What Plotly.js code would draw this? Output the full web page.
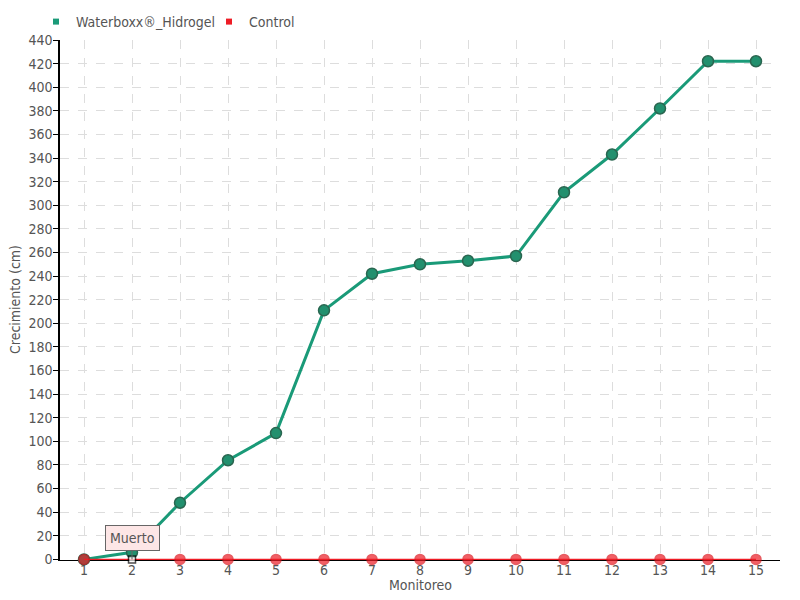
<!DOCTYPE html>
<html><head><meta charset="utf-8">
<script src="https://cdn.plot.ly/plotly-3.0.1.min.js"></script>
<style>body{margin:0}</style></head>
<body><div id="chart" style="width:800px;height:600px"></div>
<script>
const monitoreo = [1,2,3,4,5,6,7,8,9,10,11,12,13,14,15];
const waterboxx = [0,6,48,84,107,211,242,250,253,257,311,343,382,422,422];
const control = [0,0,0,0,0,0,0,0,0,0,0,0,0,0,0];
const tickLabels = ['1','2','3','4','5','6','7','8','9','10','11','12','13','14','15'];
const FONT = 'DejaVu Sans Condensed, DejaVu Sans, sans-serif';
const ctrlSymbols = control.map((v,i)=> i===1 ? 'square' : 'circle');
const ctrlColors = control.map((v,i)=> i===1 ? '#ffffff' : '#ee1c25');
const ctrlLineColors = control.map((v,i)=> i===1 ? '#000000' : '#dd1820');
const ctrlSizes = control.map((v,i)=> i===1 ? 7 : 10);
const traces = [
 {x: monitoreo, y: waterboxx, type:'scatter', mode:'lines+markers', name:'Waterboxx®_Hidrogel', showlegend:false, cliponaxis:false,
  line:{color:'#1a9a78', width:3}, marker:{color:'#22906e', size:11, line:{color:'#2a6650', width:1.5}}},
 {x: monitoreo, y: control, type:'scatter', mode:'lines+markers', name:'Control', showlegend:false, cliponaxis:false,
  line:{color:'#ee1c25', width:1.5}, marker:{color:ctrlColors, symbol:ctrlSymbols, size:ctrlSizes, line:{color:ctrlLineColors, width:1.5}}},
 {x:[null], y:[null], type:'scatter', mode:'markers', name:'Waterboxx®_Hidrogel', marker:{symbol:'square', color:'#1a9a78', size:6}},
 {x:[null], y:[null], type:'scatter', mode:'markers', name:'Control', marker:{symbol:'square', color:'#ee1c25', size:6}}
];
const layout = {
 width:800, height:600, margin:{l:60, r:20, t:40, b:40, autoexpand:false},
 paper_bgcolor:'#fff', plot_bgcolor:'#fff',
 font:{family:FONT, color:'#555', size:14},
 showlegend:true,
 legend:{orientation:'h', x:0.045, xref:'container', xanchor:'left', y:0.99, yref:'container', yanchor:'top',
   font:{size:14, color:'#555'}, itemwidth:30, entrywidth:128, bgcolor:'rgba(0,0,0,0)'},
 xaxis:{range:[0.5,15.5], tickvals:monitoreo, ticktext:tickLabels, showline:true, linecolor:'#000', linewidth:1, layer:'below traces',
   showgrid:true, gridcolor:'#dddddd', griddash:'dash', zeroline:false, ticks:'', ticklen:0, ticklabelstandoff:-3},
 yaxis:{range:[-0.5,440], tickvals:[0,20,40,60,80,100,120,140,160,180,200,220,240,260,280,300,320,340,360,380,400,420,440],
   showline:true, linecolor:'#000', linewidth:1.5, ticks:'outside', ticklen:5, tickcolor:'#000', ticklabelstandoff:-2,
   showgrid:true, gridcolor:'#dddddd', griddash:'dash', zeroline:false, tickfont:{size:14}},
 annotations:[
  {x:2, y:0, xref:'x', yref:'y', text:'Muerto', showarrow:true, arrowhead:0, arrowcolor:'#666', arrowwidth:1,
   ax:0, ay:-21, bgcolor:'#fde6e6', bordercolor:'#666', borderwidth:1, borderpad:4, font:{size:14, color:'#555', family:FONT}},
  {x:0.5, y:0, xref:'paper', yref:'paper', yshift:-25, yanchor:'middle', text:'Monitoreo', showarrow:false, font:{size:14, color:'#555'}},
  {x:0, y:0.5, xref:'paper', yref:'paper', xshift:-45, xanchor:'center', yanchor:'middle', textangle:-90, text:'Crecimiento (cm)', showarrow:false, font:{size:14, color:'#555'}}
 ]
};
Plotly.newPlot('chart', traces, layout, {displayModeBar:false});
</script></body></html>
